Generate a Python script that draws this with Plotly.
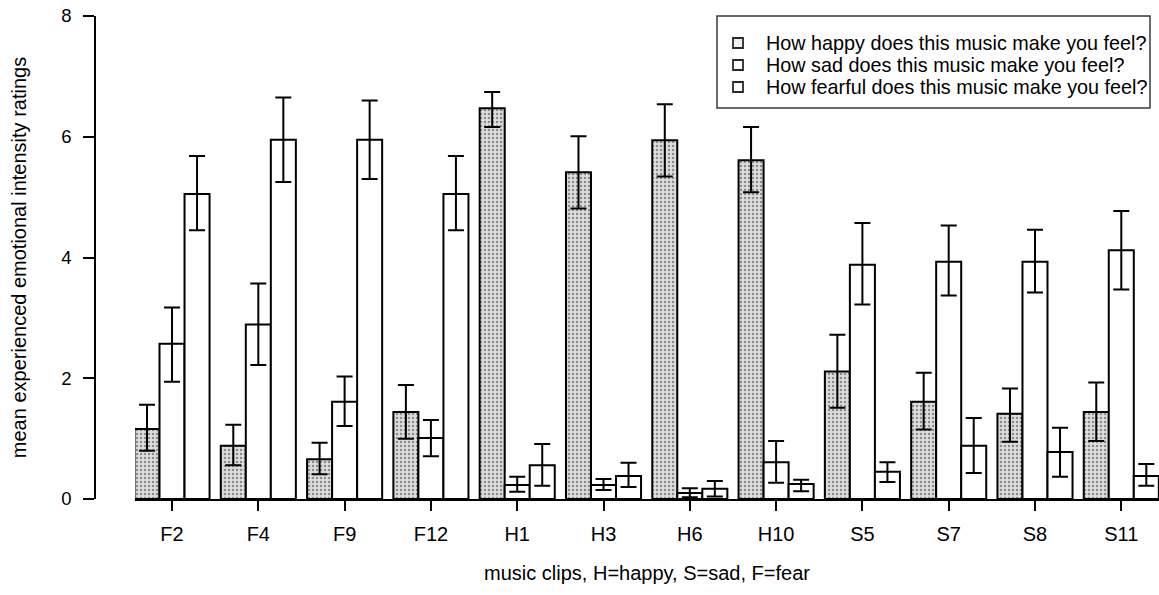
import plotly.graph_objects as go

# Music clips and mean ratings with upper / lower error limits
clips = ["F2", "F4", "F9", "F12", "H1", "H3", "H6", "H10", "S5", "S7", "S8", "S11"]

happy = [1.16, 0.88, 0.66, 1.44, 6.47, 5.41, 5.94, 5.61, 2.11, 1.61, 1.41, 1.44]
happy_hi = [1.56, 1.23, 0.93, 1.89, 6.74, 6.01, 6.54, 6.16, 2.72, 2.09, 1.83, 1.93]
happy_lo = [0.80, 0.56, 0.41, 1.00, 6.16, 4.81, 5.34, 5.08, 1.51, 1.15, 0.95, 0.96]

sad = [2.57, 2.89, 1.61, 1.01, 0.23, 0.23, 0.10, 0.61, 3.88, 3.93, 3.93, 4.12]
sad_hi = [3.17, 3.57, 2.03, 1.31, 0.37, 0.33, 0.18, 0.96, 4.57, 4.53, 4.46, 4.77]
sad_lo = [1.94, 2.22, 1.21, 0.71, 0.12, 0.15, 0.03, 0.27, 3.22, 3.37, 3.42, 3.47]

fear = [5.05, 5.95, 5.95, 5.05, 0.56, 0.38, 0.17, 0.25, 0.45, 0.88, 0.78, 0.38]
fear_hi = [5.68, 6.65, 6.60, 5.68, 0.91, 0.60, 0.30, 0.32, 0.61, 1.34, 1.18, 0.58]
fear_lo = [4.45, 5.25, 5.30, 4.45, 0.22, 0.20, 0.04, 0.13, 0.28, 0.43, 0.37, 0.22]

y_ticks = [0, 2, 4, 6, 8]

series = [
    ("How happy does this music make you feel?", happy, happy_hi, happy_lo, True),
    ("How sad does this music make you feel?", sad, sad_hi, sad_lo, False),
    ("How fearful does this music make you feel?", fear, fear_hi, fear_lo, False),
]

FONT = "Liberation Sans, Arial, sans-serif"
W, H = 1159, 595
ML, MR, MT, MB = 95, 0, 16, 96
PW, PH = W - ML - MR, H - MT - MB


def px(x):
    """pixel column -> paper x"""
    return (x - ML) / PW


def py(y):
    """pixel row -> paper y"""
    return (H - MB - y) / PH


xpos = list(range(len(clips)))

fig = go.Figure()
for name, vals, hi, lo, shaded in series:
    if shaded:
        pattern = dict(shape=".", fgcolor="#8c8c8c", bgcolor="#dedede",
                       size=4, solidity=0.3, fillmode="replace")
    else:
        pattern = dict(shape="", fillmode="replace")
    fig.add_trace(go.Bar(
        x=xpos, y=vals, name=name, showlegend=False,
        marker=dict(color="#dedede" if shaded else "white",
                    line=dict(color="black", width=2), pattern=pattern),
        error_y=dict(type="data", symmetric=False,
                     array=[h - v for h, v in zip(hi, vals)],
                     arrayminus=[v - l for v, l in zip(vals, lo)],
                     color="black", thickness=2, width=8),
    ))

# Legend box drawn by hand: framed panel, small square keys and labels
shapes = [dict(type="rect", xref="paper", yref="paper",
               x0=px(717), x1=px(1150), y0=py(108), y1=py(16),
               line=dict(color="#3a3a3a", width=1.5), fillcolor="white",
               layer="above")]
annotations = []
row_y = [43, 65, 87]
for (name, _, _, _, shaded), ry in zip(series, row_y):
    shapes.append(dict(type="rect", xref="paper", yref="paper",
                       x0=px(733), x1=px(743), y0=py(ry + 5), y1=py(ry - 5),
                       line=dict(color="#2a2a2a", width=1.8),
                       fillcolor="#f2f2f2" if shaded else "white",
                       layer="above"))
    annotations.append(dict(xref="paper", yref="paper", x=px(764), y=py(ry),
                            xanchor="left", yanchor="middle", text=name,
                            showarrow=False,
                            font=dict(family=FONT, size=19.8, color="black")))

fig.update_layout(
    width=W, height=H,
    margin=dict(l=ML, r=MR, t=MT, b=MB),
    paper_bgcolor="white", plot_bgcolor="white",
    barmode="group", bargap=0.13, bargroupgap=0,
    font=dict(family=FONT, size=18, color="black"),
    showlegend=False,
    shapes=shapes, annotations=annotations,
    xaxis=dict(
        domain=[px(135), 1.0],
        range=[-0.429, 11.437],
        tickmode="array", tickvals=xpos, ticktext=clips,
        ticks="outside", ticklen=10, tickwidth=1.5, tickcolor="black",
        showline=True, linecolor="black", linewidth=2,
        showgrid=False, zeroline=False,
        tickfont=dict(size=20), ticklabelstandoff=6,
        title=dict(text="music clips, H=happy, S=sad, F=fear",
                   font=dict(size=20), standoff=22),
        fixedrange=True,
    ),
    yaxis=dict(
        range=[0, 8], tickvals=y_ticks,
        anchor="free", position=0,
        ticks="outside", ticklen=11, tickwidth=1.5, tickcolor="black",
        showline=True, linecolor="black", linewidth=1.5,
        showgrid=False, zeroline=False,
        tickfont=dict(size=18.5), ticklabelstandoff=8,
        title=dict(text="mean experienced emotional intensity ratings",
                   font=dict(size=20), standoff=28),
        fixedrange=True,
    ),
)

fig.write_html("out.html")
